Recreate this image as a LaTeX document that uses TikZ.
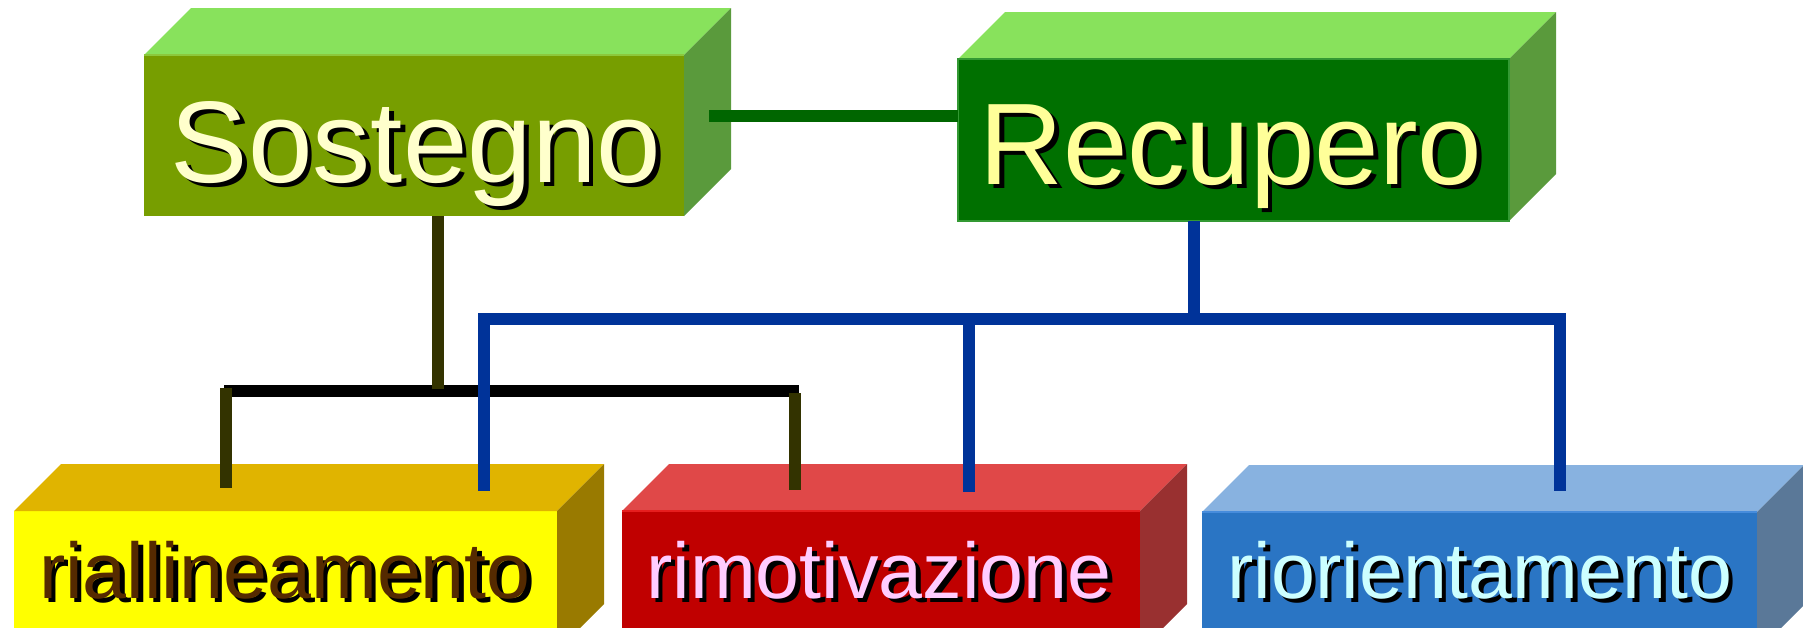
\documentclass[tikz,border=0pt]{standalone}
\usepackage{fontspec}
\setmainfont{Liberation Sans}
\definecolor{sostF}{RGB}{119,158,0}
\definecolor{greenT}{RGB}{136,226,92}
\definecolor{greenS}{RGB}{90,154,60}
\definecolor{recuF}{RGB}{0,112,0}
\definecolor{yelF}{RGB}{255,255,0}
\definecolor{yelT}{RGB}{224,180,0}
\definecolor{yelS}{RGB}{153,122,0}
\definecolor{redF}{RGB}{192,0,0}
\definecolor{redT}{RGB}{224,72,72}
\definecolor{redS}{RGB}{153,48,48}
\definecolor{bluF}{RGB}{42,117,196}
\definecolor{bluT}{RGB}{136,178,224}
\definecolor{bluS}{RGB}{90,120,152}
\definecolor{gLine}{RGB}{0,102,0}
\definecolor{oLine}{RGB}{51,51,0}
\definecolor{bLine}{RGB}{0,51,153}
\definecolor{txSost}{RGB}{255,255,204}
\definecolor{txRecu}{RGB}{255,255,153}
\definecolor{txRial}{RGB}{85,42,0}
\definecolor{txRimo}{RGB}{255,204,255}
\definecolor{txRior}{RGB}{204,255,255}
\newcommand\shtext[2]{\rlap{\kern4.5pt\raisebox{-4.5pt}{\color{black}#2}}{\color{#1}#2}}
\newcommand\cubefaces[3]{%
  \fill[#2] (#1.north west) -- ([shift={(47pt,47pt)}]#1.north west) -- ([shift={(47pt,47pt)}]#1.north east) -- (#1.north east) -- cycle;
  \fill[#3] (#1.north east) -- ([shift={(47pt,47pt)}]#1.north east) -- ([shift={(47pt,47pt)}]#1.south east) -- (#1.south east) -- cycle;}
\tikzset{
  front/.style={anchor=north west, inner sep=0pt, outer sep=0pt, draw=none},
  bigtext/.style={anchor=base, inner sep=0pt, font=\fontsize{116}{116}\selectfont},
  smalltext/.style={anchor=base, inner sep=0pt, font=\fontsize{79}{79}\selectfont},
  conn/.style={line width=11.5pt, line cap=butt},
}
\begin{document}
\begin{tikzpicture}[x=1pt,y=-1pt]
\useasboundingbox (0,0) rectangle (1803,627);
\clip (0,0) rectangle (1803,627);
% top boxes
\node[front, fill=sostF, minimum width=540pt, minimum height=161pt] (sost) at (144,55) {};
\cubefaces{sost}{greenT}{greenS}
\draw[line width=1.5pt, draw={rgb,255:red,140;green,200;blue,60}] (sost.north west) -- (sost.north east);
\node[front, fill=recuF, minimum width=551pt, minimum height=162pt] (recu) at (958,59) {};
\cubefaces{recu}{greenT}{greenS}
\draw[line width=1.5pt, draw={rgb,255:red,51;green,153;blue,51}] (recu.south west) rectangle (recu.north east);
% bottom boxes
\node[front, fill=yelF, minimum width=543pt, minimum height=140pt] (rial) at (14,511) {};
\cubefaces{rial}{yelT}{yelS}
\node[front, fill=redF, minimum width=518pt, minimum height=140pt] (rimo) at (622,511) {};
\cubefaces{rimo}{redT}{redS}
\draw[line width=1.5pt, draw={rgb,255:red,230;green,30;blue,30}] (rimo.north west) -- (rimo.north east);
\node[front, fill=bluF, minimum width=555pt, minimum height=140pt] (rior) at (1202,512) {};
\cubefaces{rior}{bluT}{bluS}
\draw[line width=1.5pt, draw={rgb,255:red,70;green,140;blue,220}] (rior.north west) -- (rior.north east);
% texts
\node[bigtext] (sostT) at (416,182) {\shtext{txSost}{Sostegno}};
\node[bigtext] (recuT) at (1231,184) {\shtext{txRecu}{Recupero}};
\node[smalltext] (rialT) at (285,598) {\shtext{txRial}{riallineamento}};
\node[smalltext] (rimoT) at (879,598) {\shtext{txRimo}{rimotivazione}};
\node[smalltext] (riorT) at (1480,598) {\shtext{txRior}{riorientamento}};
% junction coordinates
\coordinate (gA) at (709,116);
\coordinate (sJ) at (438,389);
\coordinate (kL) at (224,391);
\coordinate (kR) at (799,391);
\coordinate (oL) at (226,488);
\coordinate (oR) at (795,490);
\coordinate (bJ) at (1194,319);
\coordinate (bL) at (478,319);
\coordinate (bR) at (1565,319);
\coordinate (bd1) at (484,491);
\coordinate (bd2) at (969,492);
\coordinate (bd3) at (1560,491);
% connectors
\draw[conn, gLine] (gA) -- (recu.west |- gA);
\draw[conn, black] (kL) -- (kR);
\draw[conn, oLine] (sost.south -| sJ) -- (sJ);
\draw[conn, oLine] (oL |- 0,388) -- (oL);
\draw[conn, oLine] (oR |- 0,393) -- (oR);
\draw[conn, bLine] (recu.south -| bJ) -- (bJ);
\draw[conn, bLine] (bL) -- (bR);
\draw[conn, bLine] (bd1 |- 0,313) -- (bd1);
\draw[conn, bLine] (bd2 |- 0,319) -- (bd2);
\draw[conn, bLine] (bd3 |- 0,313) -- (bd3);
\end{tikzpicture}
\end{document}
